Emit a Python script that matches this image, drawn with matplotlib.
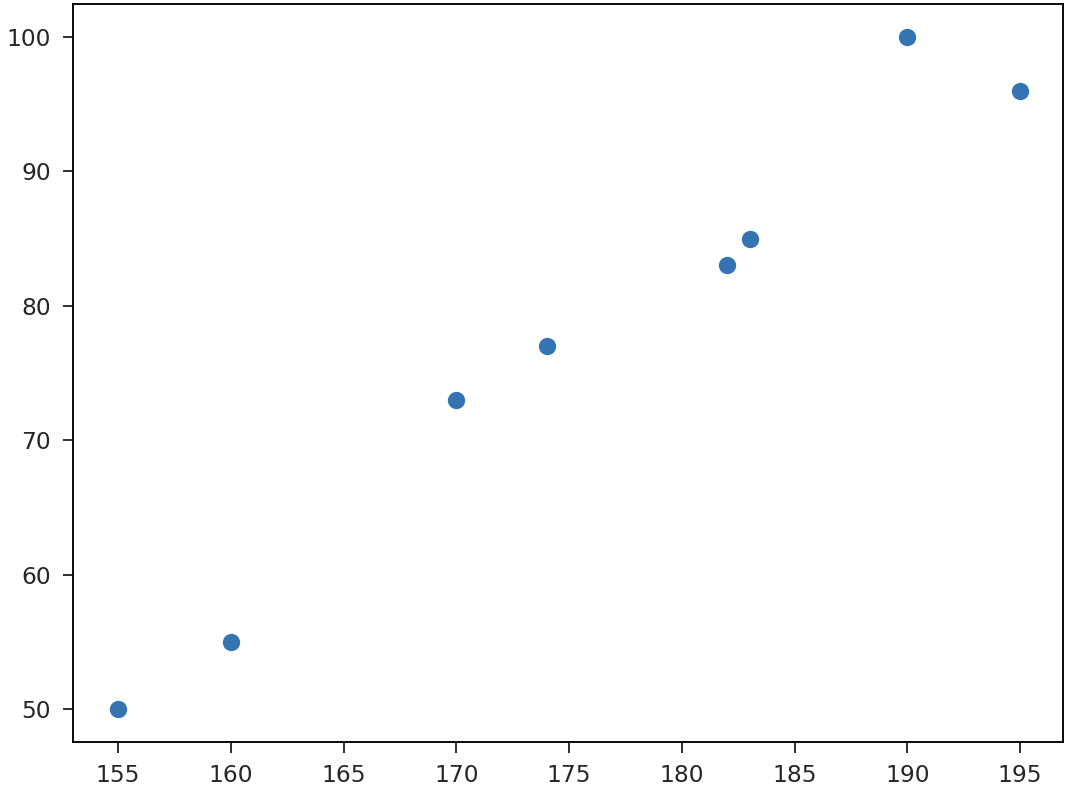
import matplotlib
matplotlib.use("Agg")
import matplotlib.pyplot as plt

# 身長と体重のデータ
height = [155, 160, 170, 174, 182, 183, 190, 195]
weight = [50, 55, 73, 77, 83, 85, 100, 96]

plt.rcParams['font.family'] = ['DejaVu Sans']
plt.rcParams['font.size'] = 10
plt.rcParams['xtick.color'] = '#262626'
plt.rcParams['ytick.color'] = '#262626'
plt.rcParams['xtick.major.size'] = 4.5
plt.rcParams['ytick.major.size'] = 4.5
plt.rcParams['xtick.major.pad'] = 5
plt.rcParams['ytick.major.pad'] = 5

dpi = 168
fig = plt.figure(figsize=(1078 / dpi, 792 / dpi), dpi=dpi)
ax = fig.add_axes([73 / 1078, 1 - 742 / 792, (1063 - 73) / 1078, (742 - 4) / 792])

# 散布図を書く
ax.scatter(height, weight, s=68, color="#3574b3", edgecolors="white", linewidths=0.8)

ax.set_xticks([155, 160, 165, 170, 175, 180, 185, 190, 195])
ax.set_yticks([50, 60, 70, 80, 90, 100])
ax.set_xlim(153.0, 196.9)
ax.set_ylim(47.54, 102.46)

fig.savefig("out.png", dpi=dpi)
